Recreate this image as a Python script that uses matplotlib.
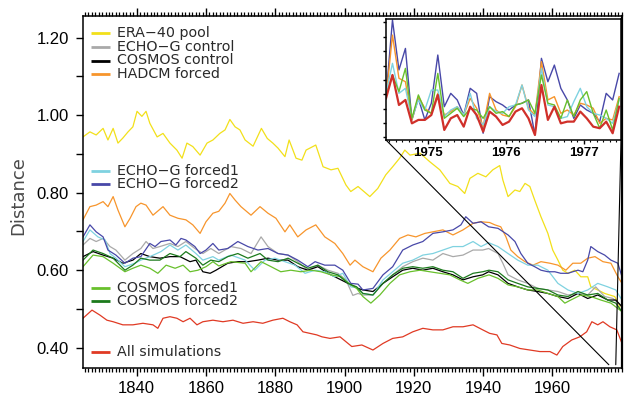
import numpy as np
import matplotlib
matplotlib.use("Agg")
import matplotlib.pyplot as plt
from matplotlib.patches import ConnectionPatch
from matplotlib.ticker import MultipleLocator, FixedLocator, NullFormatter

# ---------------- data ----------------
era_years = [1824.5, 1826.5, 1828.3, 1830.3, 1831.7, 1833.2, 1834.6, 1836.0, 1837.5, 1838.9,
             1840.1, 1841.5, 1842.7, 1843.8, 1845.9, 1847.6, 1849.6, 1851.6, 1853.1, 1854.5,
             1856.2, 1858.3, 1860.3, 1862.0, 1864.0, 1865.5, 1866.9, 1868.4, 1869.8, 1871.3,
             1873.6, 1876.0, 1877.7, 1879.3, 1880.8, 1882.8, 1884.0, 1886.0, 1887.7, 1888.9,
             1891.7, 1893.8, 1896.1, 1898.1, 1900.4, 1901.8, 1903.9, 1907.3, 1909.6, 1911.9,
             1913.9, 1915.9, 1917.4, 1918.9, 1921.8, 1924.6, 1927.5, 1930.4, 1932.7, 1934.7,
             1936.2, 1938.5, 1940.8, 1942.8, 1944.8, 1945.7, 1947.2, 1949.2, 1950.6, 1952.1,
             1953.5, 1954.9, 1956.7, 1958.7, 1960.1, 1961.6, 1963.0, 1964.5, 1966.5, 1968.2,
             1970.2, 1971.1, 1973.1, 1975.1, 1978.0, 1979.5]
era_vals = [0.944, 0.957, 0.949, 0.966, 0.936, 0.966, 0.928, 0.941, 0.957, 0.970,
            1.010, 0.997, 1.010, 0.979, 0.944, 0.953, 0.928, 0.910, 0.889, 0.928,
            0.919, 0.897, 0.928, 0.936, 0.953, 0.962, 0.989, 0.970, 0.962, 0.936,
            0.920, 0.966, 0.940, 0.928, 0.915, 0.893, 0.936, 0.889, 0.884, 0.910,
            0.923, 0.867, 0.859, 0.863, 0.820, 0.803, 0.816, 0.790, 0.811, 0.846,
            0.867, 0.889, 0.910, 0.897, 0.902, 0.880, 0.859, 0.824, 0.816, 0.798,
            0.837, 0.850, 0.841, 0.859, 0.870, 0.833, 0.790, 0.807, 0.803, 0.824,
            0.816, 0.781, 0.738, 0.695, 0.652, 0.626, 0.600, 0.592, 0.600, 0.583,
            0.583, 0.557, 0.549, 0.540, 0.532, 0.506]

hadcm_years = [1824.5, 1826.5, 1828.3, 1830.3, 1831.7, 1833.2, 1834.6, 1836.6, 1838.1, 1839.8,
               1841.2, 1842.7, 1844.7, 1847.6, 1849.6, 1851.9, 1854.2, 1856.2, 1858.3, 1860.0,
               1862.0, 1863.7, 1865.5, 1866.9, 1868.4, 1870.1, 1873.0, 1875.6, 1877.9, 1880.2,
               1882.8, 1884.2, 1886.5, 1888.9, 1891.7, 1894.3, 1897.2, 1899.5, 1901.6, 1903.0,
               1905.3, 1908.2, 1910.5, 1913.1, 1915.9, 1918.3, 1920.6, 1923.2, 1925.5, 1928.4,
               1931.3, 1934.2, 1937.1, 1939.4, 1941.9, 1943.4, 1945.1, 1946.6, 1948.0, 1950.0,
               1952.1, 1954.4, 1956.7, 1959.3, 1961.6, 1963.9, 1965.9, 1968.2, 1970.2, 1972.3,
               1974.6, 1976.9, 1978.9, 1980.1]
hadcm_vals = [0.730, 0.764, 0.768, 0.777, 0.764, 0.790, 0.755, 0.712, 0.734, 0.764,
              0.773, 0.768, 0.742, 0.764, 0.742, 0.734, 0.730, 0.717, 0.695, 0.725,
              0.747, 0.752, 0.773, 0.798, 0.781, 0.764, 0.742, 0.764, 0.747, 0.734,
              0.699, 0.717, 0.686, 0.704, 0.717, 0.686, 0.669, 0.643, 0.613, 0.626,
              0.609, 0.596, 0.631, 0.652, 0.682, 0.691, 0.686, 0.695, 0.699, 0.704,
              0.691, 0.704, 0.721, 0.725, 0.723, 0.717, 0.712, 0.686, 0.652, 0.635,
              0.622, 0.613, 0.622, 0.618, 0.613, 0.600, 0.618, 0.618, 0.631, 0.635,
              0.622, 0.618, 0.583, 0.566]

all_years = [1824.5, 1827.1, 1829.4, 1831.4, 1833.2, 1836.0, 1838.9, 1841.8, 1844.7, 1846.1,
             1847.6, 1849.6, 1851.6, 1853.4, 1855.4, 1857.4, 1859.1, 1862.0, 1864.9, 1867.8,
             1870.7, 1873.6, 1876.4, 1879.3, 1882.2, 1884.2, 1886.3, 1888.0, 1890.0, 1892.0,
             1893.5, 1895.8, 1898.7, 1902.1, 1905.0, 1908.2, 1911.1, 1913.9, 1916.8, 1919.7,
             1922.6, 1925.5, 1928.4, 1931.3, 1934.2, 1937.1, 1939.9, 1941.9, 1944.0, 1945.4,
             1947.7, 1950.6, 1953.5, 1956.4, 1959.3, 1961.3, 1963.0, 1965.6, 1967.9, 1969.9,
             1971.4, 1973.1, 1974.6, 1976.6, 1978.6, 1980.1]
all_vals = [0.476, 0.497, 0.484, 0.471, 0.467, 0.459, 0.459, 0.463, 0.459, 0.450,
            0.476, 0.480, 0.476, 0.467, 0.476, 0.459, 0.467, 0.471, 0.467, 0.471,
            0.463, 0.467, 0.463, 0.471, 0.476, 0.467, 0.459, 0.441, 0.437, 0.433,
            0.428, 0.424, 0.428, 0.403, 0.407, 0.394, 0.411, 0.424, 0.428, 0.441,
            0.450, 0.446, 0.446, 0.454, 0.454, 0.459, 0.446, 0.437, 0.433, 0.411,
            0.407, 0.398, 0.394, 0.390, 0.390, 0.381, 0.403, 0.420, 0.428, 0.441,
            0.467, 0.459, 0.467, 0.454, 0.446, 0.411]

echo_f2_years = [1824.5, 1826.5, 1828.3, 1830.3, 1831.7, 1834.0, 1836.6, 1838.9, 1841.2, 1843.8,
                 1845.3, 1847.0, 1849.6, 1851.3, 1852.8, 1854.2, 1856.8, 1858.3, 1860.0, 1862.0,
                 1863.7, 1866.3, 1869.2, 1872.1, 1875.0, 1877.9, 1880.8, 1883.7, 1886.5, 1889.4,
                 1891.5, 1894.3, 1897.2, 1899.5, 1901.8, 1903.9, 1905.3, 1908.2, 1911.1, 1913.9,
                 1916.8, 1919.7, 1922.6, 1925.5, 1928.4, 1931.3, 1933.6, 1935.0, 1937.1, 1939.4,
                 1941.6, 1944.3, 1947.2, 1949.2, 1950.9, 1952.9, 1954.9, 1956.7, 1958.7, 1960.7,
                 1962.4, 1964.5, 1965.9, 1967.4, 1968.8, 1970.2, 1971.1, 1973.1, 1975.1, 1976.9,
                 1978.9, 1980.1]
echo_f2_vals = [0.686, 0.717, 0.699, 0.686, 0.652, 0.639, 0.618, 0.631, 0.635, 0.669,
                0.661, 0.674, 0.678, 0.665, 0.682, 0.678, 0.661, 0.643, 0.652, 0.669,
                0.652, 0.656, 0.674, 0.661, 0.652, 0.656, 0.643, 0.639, 0.626, 0.609,
                0.622, 0.613, 0.613, 0.600, 0.566, 0.564, 0.549, 0.553, 0.588, 0.609,
                0.652, 0.665, 0.674, 0.695, 0.699, 0.704, 0.717, 0.738, 0.721, 0.725,
                0.712, 0.708, 0.691, 0.674, 0.643, 0.618, 0.609, 0.600, 0.596, 0.596,
                0.592, 0.592, 0.596, 0.600, 0.596, 0.626, 0.661, 0.648, 0.639, 0.626,
                0.618, 0.583]

echo_f1_years = [1824.5, 1826.5, 1828.8, 1830.9, 1832.3, 1834.0, 1836.6, 1839.5, 1841.2, 1843.8,
                 1847.0, 1849.6, 1851.9, 1854.2, 1857.1, 1859.1, 1862.0, 1863.7, 1867.2, 1871.3,
                 1874.1, 1877.0, 1879.9, 1882.8, 1885.7, 1888.6, 1891.5, 1894.3, 1897.2, 1899.5,
                 1901.8, 1903.5, 1905.3, 1908.2, 1911.1, 1913.9, 1916.8, 1919.7, 1922.6, 1925.5,
                 1928.4, 1931.3, 1934.2, 1937.1, 1939.4, 1941.6, 1944.3, 1947.2, 1950.0, 1952.9,
                 1955.8, 1958.7, 1961.6, 1964.5, 1967.4, 1970.2, 1973.1, 1976.0, 1978.3, 1980.1]
echo_f1_vals = [0.674, 0.704, 0.686, 0.678, 0.643, 0.631, 0.609, 0.618, 0.626, 0.635,
                0.648, 0.665, 0.652, 0.665, 0.643, 0.626, 0.635, 0.626, 0.639, 0.626,
                0.600, 0.626, 0.631, 0.622, 0.613, 0.592, 0.600, 0.596, 0.583, 0.592,
                0.557, 0.555, 0.540, 0.536, 0.575, 0.596, 0.618, 0.626, 0.639, 0.643,
                0.652, 0.661, 0.661, 0.674, 0.661, 0.671, 0.661, 0.643, 0.626, 0.613,
                0.613, 0.600, 0.566, 0.549, 0.540, 0.549, 0.566, 0.557, 0.549, 0.523]

echo_c_years = [1824.5, 1826.5, 1828.3, 1830.3, 1832.3, 1834.0, 1836.6, 1838.9, 1841.2, 1842.7,
                1844.7, 1846.7, 1849.6, 1851.9, 1854.2, 1856.8, 1859.1, 1861.4, 1863.7, 1867.2,
                1870.1, 1873.0, 1875.9, 1877.9, 1880.8, 1883.7, 1886.5, 1889.4, 1892.3, 1895.2,
                1898.1, 1900.4, 1902.4, 1903.9, 1905.3, 1908.2, 1911.1, 1913.9, 1916.8, 1919.7,
                1922.6, 1925.5, 1928.4, 1931.3, 1934.2, 1937.1, 1939.9, 1941.6, 1944.3, 1945.7,
                1947.2, 1950.0, 1952.9, 1955.8, 1958.7, 1961.6, 1964.5, 1967.4, 1970.2, 1972.5,
                1975.1, 1977.5, 1980.1]
echo_c_vals = [0.665, 0.682, 0.674, 0.682, 0.661, 0.652, 0.626, 0.643, 0.656, 0.674,
               0.656, 0.661, 0.669, 0.661, 0.674, 0.656, 0.643, 0.656, 0.643, 0.661,
               0.656, 0.643, 0.686, 0.661, 0.643, 0.639, 0.622, 0.600, 0.613, 0.600,
               0.592, 0.575, 0.535, 0.540, 0.536, 0.536, 0.566, 0.588, 0.609, 0.622,
               0.631, 0.626, 0.643, 0.635, 0.639, 0.652, 0.652, 0.656, 0.643, 0.618,
               0.588, 0.575, 0.566, 0.553, 0.549, 0.545, 0.536, 0.540, 0.536, 0.557,
               0.532, 0.527, 0.506]

cosmos_c_years = [1824.5, 1827.4, 1830.3, 1833.2, 1836.0, 1838.9, 1841.2, 1843.8, 1846.7, 1849.6,
                  1852.5, 1855.4, 1857.1, 1859.1, 1861.2, 1862.9, 1866.3, 1869.2, 1872.1, 1875.0,
                  1877.9, 1880.8, 1883.7, 1886.5, 1889.4, 1892.3, 1895.2, 1898.1, 1901.0, 1903.9,
                  1905.3, 1908.2, 1911.1, 1913.9, 1916.8, 1919.7, 1922.6, 1925.5, 1928.4, 1931.3,
                  1934.2, 1937.1, 1939.9, 1941.6, 1944.3, 1947.2, 1950.0, 1952.9, 1955.8, 1958.7,
                  1961.6, 1964.5, 1967.4, 1970.2, 1973.1, 1976.0, 1978.3, 1980.1]
cosmos_c_vals = [0.635, 0.648, 0.639, 0.631, 0.618, 0.626, 0.643, 0.635, 0.631, 0.635,
                 0.635, 0.622, 0.626, 0.596, 0.592, 0.600, 0.618, 0.622, 0.622, 0.626,
                 0.631, 0.626, 0.626, 0.609, 0.600, 0.609, 0.592, 0.579, 0.566, 0.553,
                 0.549, 0.545, 0.566, 0.583, 0.600, 0.605, 0.600, 0.605, 0.596, 0.588,
                 0.575, 0.583, 0.588, 0.596, 0.588, 0.566, 0.557, 0.549, 0.545, 0.540,
                 0.532, 0.527, 0.540, 0.527, 0.536, 0.523, 0.523, 0.506]

cosmos_f1_years = [1824.5, 1827.4, 1830.3, 1833.2, 1836.6, 1838.9, 1841.2, 1843.8, 1846.1, 1848.5,
                   1851.1, 1853.4, 1855.4, 1857.7, 1860.0, 1862.0, 1863.7, 1867.2, 1871.3, 1873.0,
                   1875.9, 1878.8, 1881.6, 1884.5, 1887.4, 1890.3, 1893.2, 1896.1, 1899.0, 1901.8,
                   1903.5, 1905.3, 1907.6, 1910.2, 1913.1, 1915.9, 1918.9, 1921.8, 1924.6, 1927.5,
                   1930.4, 1933.3, 1935.6, 1938.5, 1941.7, 1944.3, 1947.2, 1950.0, 1952.9, 1955.8,
                   1958.7, 1961.6, 1963.6, 1965.3, 1968.2, 1971.1, 1974.0, 1976.9, 1980.1]
cosmos_f1_vals = [0.609, 0.639, 0.635, 0.618, 0.596, 0.605, 0.613, 0.605, 0.592, 0.613,
                  0.605, 0.613, 0.596, 0.600, 0.609, 0.622, 0.611, 0.622, 0.618, 0.596,
                  0.622, 0.609, 0.596, 0.600, 0.596, 0.600, 0.596, 0.588, 0.583, 0.562,
                  0.553, 0.532, 0.515, 0.536, 0.566, 0.588, 0.596, 0.600, 0.596, 0.592,
                  0.588, 0.575, 0.566, 0.579, 0.588, 0.579, 0.562, 0.557, 0.549, 0.549,
                  0.540, 0.532, 0.515, 0.523, 0.536, 0.532, 0.523, 0.515, 0.493]

cosmos_f2_years = [1824.5, 1827.4, 1830.3, 1833.2, 1836.6, 1838.9, 1841.2, 1843.8, 1846.7, 1849.6,
                   1852.5, 1854.2, 1857.1, 1859.1, 1861.4, 1863.7, 1866.3, 1869.2, 1872.1, 1875.6,
                   1877.9, 1880.8, 1883.7, 1886.5, 1889.4, 1892.3, 1895.2, 1898.1, 1901.0, 1903.5,
                   1905.3, 1908.2, 1911.1, 1913.9, 1916.8, 1919.7, 1922.6, 1925.5, 1928.4, 1931.3,
                   1934.2, 1937.1, 1939.9, 1941.7, 1944.3, 1947.2, 1950.0, 1952.9, 1955.8, 1958.7,
                   1961.6, 1964.5, 1967.4, 1970.2, 1973.1, 1976.0, 1978.3, 1980.1]
cosmos_f2_vals = [0.626, 0.652, 0.643, 0.631, 0.600, 0.613, 0.631, 0.626, 0.626, 0.643,
                  0.635, 0.648, 0.631, 0.613, 0.626, 0.622, 0.635, 0.643, 0.631, 0.643,
                  0.626, 0.622, 0.631, 0.618, 0.605, 0.613, 0.596, 0.588, 0.566, 0.557,
                  0.540, 0.536, 0.566, 0.588, 0.605, 0.609, 0.605, 0.609, 0.600, 0.596,
                  0.579, 0.592, 0.596, 0.600, 0.596, 0.575, 0.566, 0.557, 0.553, 0.549,
                  0.536, 0.532, 0.545, 0.536, 0.540, 0.523, 0.515, 0.493]

# inset: monthly values (arbitrary units, one tick = 10), starting mid-1974
inset_start = 1974.456
inset_blue = [28.3, 81.7, 46.9, 61.9, 12.1, 27.1, 12.1, 23.7, 57.3, 21.3, 30.6, 26.0, 15.5,
              34.1, 30.6, 2.8, 28.3, 24.8, 22.5, 19.0, 22.5, 23.7, 26.0, 1.6, 55.0, 38.7,
              50.3, 34.1, 26.0, 13.2, 22.5, 19.0, 16.7, 10.9, 30.6, 26.0, 44.5]
inset_orange = [27.1, 71.2, 41.1, 38.7, 12.1, 28.3, 20.2, 16.7, 30.6, 15.5, 17.9, 21.3, 15.5,
                27.1, 20.2, 7.4, 30.6, 19.0, 15.5, 14.4, 21.3, 36.4, 20.2, 15.5, 52.7, 26.0,
                28.3, 16.7, 19.0, 15.5, 23.7, 22.5, 20.2, 9.7, 13.2, 12.1, 28.3]
inset_cyan = [30.6, 51.5, 30.6, 34.1, 13.2, 26.0, 19.0, 32.9, 32.9, 14.4, 19.0, 21.3, 15.5,
              30.6, 13.2, 8.6, 21.3, 17.9, 16.7, 21.3, 22.5, 36.4, 19.0, 14.4, 48.0, 22.5,
              21.3, 13.2, 14.4, 24.8, 34.1, 21.3, 16.7, 15.5, 13.2, 9.7, 26.0]
inset_green = [28.3, 43.4, 31.8, 48.0, 13.2, 29.5, 19.0, 16.7, 44.5, 13.2, 16.7, 20.2, 14.4,
               20.2, 19.0, 13.2, 21.3, 16.7, 17.9, 14.4, 22.5, 23.7, 26.0, 16.7, 43.4, 23.7,
               22.5, 13.2, 26.0, 14.4, 26.0, 31.8, 16.7, 6.3, 19.0, 5.1, 27.1]
inset_red = [27.1, 43.4, 22.5, 26.0, 9.7, 12.1, 12.1, 15.5, 29.5, 5.1, 13.2, 15.5, 7.4,
             21.3, 15.5, 3.9, 17.9, 14.4, 8.6, 10.9, 17.9, 20.2, 13.2, 1.6, 36.4, 12.1,
             21.3, 9.7, 10.9, 10.9, 17.9, 13.2, 7.4, 6.3, 10.9, 2.8, 21.3]

x_ticks = [1840, 1860, 1880, 1900, 1920, 1940, 1960]
y_ticks = [0.40, 0.60, 0.80, 1.00, 1.20]
inset_x_ticks = [1975, 1976, 1977]
zoom_span = [1976.3, 1978.3]

# ---------------- styling ----------------
C_YEL = '#F2E01A'
C_GRY = '#A9A9A9'
C_BLK = '#000000'
C_ORA = '#F7952C'
C_CYA = '#7FD2E0'
C_BLU = '#4848A8'
C_LGR = '#68C02C'
C_DGR = '#1C7A1C'
C_RED = '#E03A24'

plt.rcParams['font.family'] = ['Liberation Sans', 'DejaVu Sans']

fig = plt.figure(figsize=(6.24, 3.97), dpi=100)
W, H = 624.0, 397.0
ax = fig.add_axes([83 / W, 1 - 368 / H, (622 - 83) / W, (368 - 16) / H])

series = [
    (era_years, era_vals, C_YEL),
    (echo_c_years, echo_c_vals, C_GRY),
    (cosmos_c_years, cosmos_c_vals, C_BLK),
    (hadcm_years, hadcm_vals, C_ORA),
    (echo_f1_years, echo_f1_vals, C_CYA),
    (echo_f2_years, echo_f2_vals, C_BLU),
    (cosmos_f1_years, cosmos_f1_vals, C_LGR),
    (cosmos_f2_years, cosmos_f2_vals, C_DGR),
    (all_years, all_vals, C_RED),
]
for xs, ys, c in series:
    ax.plot(xs, ys, color=c, lw=0.9)

ax.set_xlim(1824.5, 1980.1)
ax.set_ylim(0.3476, 1.256)
ax.xaxis.set_major_locator(FixedLocator(x_ticks))
ax.set_xticklabels([str(t) for t in x_ticks])
ax.xaxis.set_minor_locator(MultipleLocator(1))
ax.yaxis.set_major_locator(FixedLocator(y_ticks))
ax.set_yticklabels(['%.2f' % t for t in y_ticks])
ax.yaxis.set_minor_locator(MultipleLocator(0.1))
ax.tick_params(axis='x', which='major', direction='out', length=5.5, width=1.0,
               top=True, bottom=True, labelsize=12, pad=4)
ax.tick_params(axis='x', which='minor', direction='out', length=3.0, width=0.9,
               top=True, bottom=True)
ax.tick_params(axis='y', which='both', direction='out', length=4.8, width=1.0,
               left=True, right=False, labelsize=12, pad=5.5)
ax.tick_params(axis='y', which='minor', direction='out', length=4.8, width=1.0,
               left=True, right=False)
for s in ax.spines.values():
    s.set_linewidth(1.1)
ax.spines['right'].set_linewidth(1.6)

ax.text(-0.12, 0.49, 'Distance', transform=ax.transAxes, rotation=90,
        ha='center', va='center', fontsize=13, color='#4a4a4a', family='DejaVu Sans')

# legend groups
def legend_group(entries, rows_px):
    for (label, color), ypx in zip(entries, rows_px):
        yf = (368 - ypx) / 352.0
        ax.plot([(91 - 83) / 539.0, (110 - 83) / 539.0], [yf, yf], transform=ax.transAxes,
                color=color, lw=2.0, solid_capstyle='butt', clip_on=False)
        ax.text((117 - 83) / 539.0, yf, label, transform=ax.transAxes, va='center',
                ha='left', fontsize=10.3, color='#2a2a2a', family='DejaVu Sans')

legend_group([('ERA−40 pool', C_YEL), ('ECHO−G control', C_GRY),
              ('COSMOS control', C_BLK), ('HADCM forced', C_ORA)], [33, 46.7, 60.5, 74])
legend_group([('ECHO−G forced1', C_CYA), ('ECHO−G forced2', C_BLU)], [171, 184.5])
legend_group([('COSMOS forced1', C_LGR), ('COSMOS forced2', C_DGR)], [287.7, 300.7])
legend_group([('All simulations', C_RED)], [351.7])

# inset
axi = fig.add_axes([386 / W, 1 - 140 / H, (621 - 386) / W, (140 - 19) / H])
axi.set_facecolor('white')
tm = inset_start + np.arange(len(inset_blue)) / 12.0
axi.plot(tm, inset_blue, color=C_BLU, lw=1.0)
axi.plot(tm, inset_orange, color=C_ORA, lw=1.0)
axi.plot(tm, inset_cyan, color=C_CYA, lw=1.0)
axi.plot(tm, inset_green, color=C_LGR, lw=1.0)
axi.plot(tm, inset_red, color='#D0302A', lw=1.6)
axi.set_xlim(inset_start, 1977.48)
axi.set_ylim(-1.9, 82.4)
axi.xaxis.set_major_locator(FixedLocator(inset_x_ticks))
axi.set_xticklabels([str(t) for t in inset_x_ticks], fontsize=9.5, fontweight='bold')
axi.xaxis.set_minor_locator(MultipleLocator(1 / 12.0))
axi.yaxis.set_major_locator(FixedLocator(list(range(0, 81, 10))))
axi.yaxis.set_major_formatter(NullFormatter())
axi.tick_params(axis='x', which='major', direction='out', length=3, width=1, pad=2)
axi.tick_params(axis='x', which='minor', direction='out', length=1.5, width=0.8)
axi.tick_params(axis='y', which='major', direction='out', length=2.2, width=1)
for s in axi.spines.values():
    s.set_linewidth(1.1)

# connectors from the inset to the zoomed span
for xa, xb in [(0, zoom_span[0]), (1, zoom_span[1])]:
    con = ConnectionPatch(xyA=(xa, 0), coordsA=axi.transAxes,
                          xyB=(xb, 0.356), coordsB=ax.transData,
                          color='black', lw=0.8)
    fig.add_artist(con)

fig.savefig('out.png', dpi=100)
